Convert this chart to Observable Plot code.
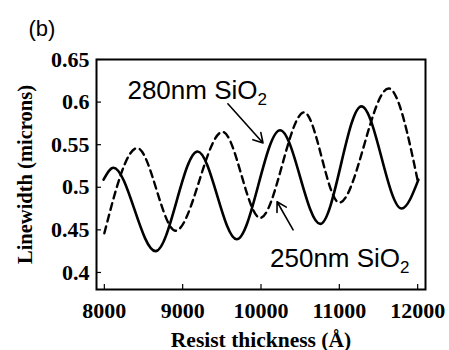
<!DOCTYPE html>
<html>
<head>
<meta charset="utf-8">
<script src="https://cdn.jsdelivr.net/npm/d3@7"></script>
<script src="https://cdn.jsdelivr.net/npm/@observablehq/plot@0.6"></script>
<style>
  html, body { margin: 0; padding: 0; background: #fff; }
  #chart { width: 449px; height: 350px; }
</style>
</head>
<body>
<div id="chart"></div>
<script>
// ---- data ----
const xTicks = [8000, 9000, 10000, 11000, 12000];
const yTicks = [0.4, 0.45, 0.5, 0.55, 0.6, 0.65];
const yTickLabels = ["0.4", "0.45", "0.5", "0.55", "0.6", "0.65"];

// 280nm SiO2 (solid)
const thick280 = [7990, 8115, 8654, 9190, 9690, 10244, 10756, 11282, 11795, 12010];
const width280 = [0.509, 0.523, 0.425, 0.542, 0.439, 0.567, 0.457, 0.595, 0.475, 0.509];

// 250nm SiO2 (dashed)
const thick250 = [8000, 8420, 8910, 9510, 9990, 10550, 11000, 11630, 12000];
const width250 = [0.446, 0.546, 0.449, 0.565, 0.464, 0.588, 0.482, 0.616, 0.508];

const labels = ["280nm SiO2", "250nm SiO2"];
const labelX = [8295, 10115];
const labelY = [0.604, 0.406];
const arrowX1 = [9577, 10410];
const arrowY1 = [0.598, 0.450];
const arrowX2 = [10026, 10205];
const arrowY2 = [0.552, 0.483];

const xLabel = "Resist thickness (Å)";
const yLabel = "Linewidth (microns)";
const panel = "(b)";

// ---- build tables ----
const s280 = thick280.map((t, i) => ({t, w: width280[i]}));
const s250 = thick250.map((t, i) => ({t, w: width250[i]}));
const notes = labels.map((l, i) => ({l, x: labelX[i], y: labelY[i]}));
const arrows = arrowX1.map((x1, i) => ({x1, y1: arrowY1[i], x2: arrowX2[i], y2: arrowY2[i]}));

const serif = "'Liberation Serif', 'Times New Roman', serif";
const sans = "'Liberation Sans', Arial, sans-serif";

const chart = Plot.plot({
  width: 449,
  height: 350,
  marginLeft: 96,
  marginRight: 24,
  marginTop: 59,
  marginBottom: 61,
  style: {background: "#fff", color: "#000"},
  x: {domain: [7900, 12100]},
  y: {domain: [0.38, 0.65]},
  marks: [
    Plot.axisX({ticks: xTicks, tickFormat: d => String(d), tickSize: -5, tickPadding: 18,
      fontSize: 22, fontFamily: serif, fontWeight: "bold", strokeWidth: 1.2,
      label: xLabel, labelAnchor: "center", labelArrow: "none", labelOffset: 57}),
    Plot.axisY({ticks: yTicks, tickFormat: (d, i) => yTickLabels[i], tickSize: -5, tickPadding: 12,
      fontSize: 22, fontFamily: serif, fontWeight: "bold", strokeWidth: 1.2,
      label: yLabel, labelAnchor: "center", labelArrow: "none", labelOffset: 79}),
    Plot.line(s250, {x: "t", y: "w", curve: "monotone-x", stroke: "#000", strokeWidth: 2.4, strokeDasharray: "7,5"}),
    Plot.line(s280, {x: "t", y: "w", curve: "monotone-x", stroke: "#000", strokeWidth: 2.6}),
    Plot.arrow(arrows, {x1: "x1", y1: "y1", x2: "x2", y2: "y2", stroke: "#000", strokeWidth: 1.6, headLength: 10}),
    Plot.text(notes, {x: "x", y: "y", text: "l", textAnchor: "start", lineAnchor: "bottom",
      fontSize: 26, fontFamily: sans, fill: "#000"}),
    Plot.frame({stroke: "#000", strokeWidth: 2}),
    Plot.text([panel], {frameAnchor: "top-left", dx: -68, dy: -39, textAnchor: "start",
      fontSize: 22, fontFamily: sans, fill: "#000"})
  ]
});

// axis title sizes
chart.querySelectorAll("text").forEach(t => {
  if (t.textContent === yLabel) t.setAttribute("font-size", "20.5");
  if (t.textContent === xLabel) t.setAttribute("font-size", "21.5");
});

// subscript the "2" in SiO2
const ns = "http://www.w3.org/2000/svg";
chart.querySelectorAll("text").forEach(t => {
  if (t.childElementCount === 0 && /SiO2$/.test(t.textContent)) {
    const s = t.textContent.slice(0, -1);
    t.textContent = s;
    const ts = document.createElementNS(ns, "tspan");
    ts.setAttribute("dy", "6");
    ts.setAttribute("font-size", "17");
    ts.textContent = "2";
    t.appendChild(ts);
  }
});

document.getElementById("chart").appendChild(chart);
</script>
</body>
</html>
